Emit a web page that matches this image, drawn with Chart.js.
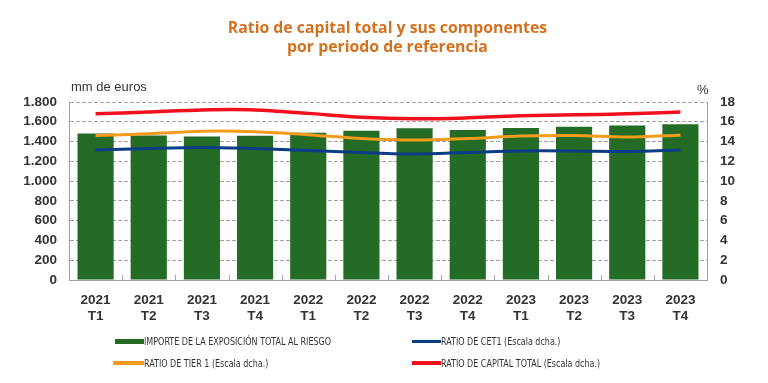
<!DOCTYPE html>
<html><head><meta charset="utf-8">
<script src="https://cdn.jsdelivr.net/npm/chart.js@4/dist/chart.umd.min.js"></script>
<style>
html,body{margin:0;padding:0;background:#fff;}
#wrap{position:relative;width:768px;height:383px;overflow:hidden;background:#fff;}
#c{position:absolute;left:0;top:0;}
.title{position:absolute;left:0;width:775px;top:18px;text-align:center;font:700 15.8px 'Open Sans',sans-serif;color:#D4711F;line-height:19px;}
.unit{position:absolute;font:13px 'Liberation Sans',Arial,sans-serif;color:#333;line-height:16px;}
.leg{position:absolute;height:14px;display:flex;align-items:center;white-space:nowrap;}
.leg .sw{display:inline-block;width:29px;}
.leg .tx{display:inline-block;font:10px 'Liberation Sans Narrow','DejaVu Sans Condensed',sans-serif;color:#333;transform:scaleX(0.89);transform-origin:left center;}
</style>
</head><body>
<div id="wrap">
<canvas id="c" width="768" height="383"></canvas>
<div class="title">Ratio de capital total y sus componentes<br>por periodo de referencia</div>
<div class="unit" style="left:71px;top:79px;">mm de euros</div>
<div class="unit" style="left:697px;top:82px;">%</div>
<div id="legend"></div>
</div>
<script>
// ---- data ----
const years = ['2021','2021','2021','2021','2022','2022','2022','2022','2023','2023','2023','2023'];
const quarters = ['T1','T2','T3','T4','T1','T2','T3','T4','T1','T2','T3','T4'];
const exposure = [1482,1462,1452,1459,1489,1510,1535,1516,1536,1550,1563,1574];
const cet1 = [13.15,13.3,13.4,13.3,13.1,12.9,12.75,12.9,13.05,13.05,13.0,13.15];
const tier1 = [14.6,14.8,15.05,15.0,14.7,14.3,14.15,14.3,14.55,14.6,14.45,14.65];
const totalCap = [16.8,17.0,17.2,17.2,16.85,16.45,16.3,16.4,16.6,16.7,16.8,17.0];
const seriesNames = ['IMPORTE DE LA EXPOSICIÓN TOTAL AL RIESGO','RATIO DE CET1 (Escala dcha.)','RATIO DE TIER 1 (Escala dcha.)','RATIO DE CAPITAL TOTAL (Escala dcha.)'];
const leftTicks = [0,200,400,600,800,1000,1200,1400,1600,1800];
const rightTicks = [0,2,4,6,8,10,12,14,16,18];

const colors = {bar:'#246B25', cet1:'#0B3D86', tier1:'#F39B1C', total:'#F2101F'};
const labels = years.map((y,i)=>[y, quarters[i]]);
const tickFont = {family:"'Liberation Sans', Arial, sans-serif", size:13.5, weight:'bold', lineHeight:1.2};
const gridColor = '#A3A3A3';

const tickMarks = {
  id:'tickMarks',
  afterDatasetsDraw(chart){
    const x = chart.scales.x, ctx = chart.ctx, b = chart.chartArea.bottom;
    ctx.save(); ctx.strokeStyle = gridColor; ctx.lineWidth = 1;
    for(let i=1;i<labels.length;i++){
      const px = Math.round((x.getPixelForValue(i-1)+x.getPixelForValue(i))/2)+0.5;
      ctx.beginPath(); ctx.moveTo(px,b); ctx.lineTo(px,b-5); ctx.stroke();
    }
    ctx.restore();
  }
};

const lineDs = (label,data,color,w)=>({type:'line',label,data,yAxisID:'y1',borderColor:color,backgroundColor:color,borderWidth:w,pointRadius:0,tension:0.3,order:1});

const chart = new Chart(document.getElementById('c'),{
  data:{
    labels,
    datasets:[
      {type:'bar',label:seriesNames[0],data:exposure,yAxisID:'y',backgroundColor:colors.bar,borderWidth:0,categoryPercentage:1,barPercentage:0.68,order:10},
      lineDs(seriesNames[1],cet1,colors.cet1,3),
      lineDs(seriesNames[2],tier1,colors.tier1,3),
      lineDs(seriesNames[3],totalCap,colors.total,3.5)
    ]
  },
  options:{
    responsive:false, animation:false, devicePixelRatio:1,
    layout:{padding:{top:102,left:0,right:0,bottom:0}},
    plugins:{legend:{display:false},tooltip:{enabled:false},title:{display:false}},
    scales:{
      x:{
        grid:{display:false},
        border:{display:true,color:gridColor,width:1},
        ticks:{font:tickFont,color:'#333',padding:4,maxRotation:0,autoSkip:false},
        afterFit(s){s.height=103;}
      },
      y:{
        position:'left', min:0, max:1800,
        afterBuildTicks(s){s.ticks = leftTicks.map(v=>({value:v}));},
        grid:{color:gridColor,lineWidth:1,drawTicks:false},
        border:{display:true,color:gridColor,width:1,dash:[4,2]},
        ticks:{font:tickFont,color:'#333',padding:12,callback:v=>String(v).replace(/\B(?=(\d{3})+(?!\d))/g,'.')},
        afterFit(s){s.width=69;}
      },
      y1:{
        position:'right', min:0, max:18,
        afterBuildTicks(s){s.ticks = rightTicks.map(v=>({value:v}));},
        grid:{drawOnChartArea:false,drawTicks:false},
        border:{display:true,color:gridColor,width:1},
        ticks:{font:tickFont,color:'#333',padding:13},
        afterFit(s){s.width=61;}
      }
    }
  },
  plugins:[tickMarks]
});

// legend (HTML, built from dataset labels/colours)
const legPos = [[115,334,5],[412,334,3],[113,356,3.5],[412,356,4]];
const legCols = [colors.bar,colors.cet1,colors.tier1,colors.total];
const legEl = document.getElementById('legend');
chart.data.datasets.forEach((ds,i)=>{
  const d = document.createElement('div');
  d.className='leg';
  d.style.left = legPos[i][0]+'px'; d.style.top = legPos[i][1]+'px';
  const sw = document.createElement('span'); sw.className='sw';
  sw.style.height = legPos[i][2]+'px'; sw.style.background = legCols[i];
  if(i===2) sw.style.width='31px';
  const tx = document.createElement('span'); tx.className='tx'; tx.textContent = ds.label;
  d.appendChild(sw); d.appendChild(tx); legEl.appendChild(d);
});
</script>
</body></html>
